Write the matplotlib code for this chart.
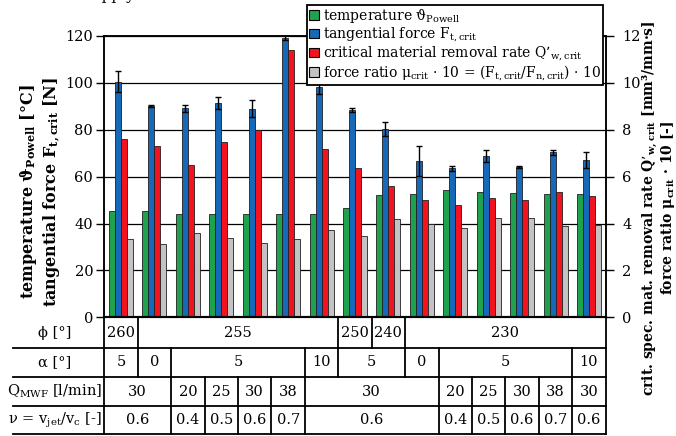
import numpy as np
import matplotlib
matplotlib.use('Agg')
import matplotlib.pyplot as plt
import matplotlib.transforms as mtransforms
from matplotlib.patches import Patch

plt.rcParams['font.family'] = ['DejaVu Serif']
plt.rcParams['mathtext.default'] = 'regular'

# measured values, 15 test configurations
temperature = [45.5, 45.2, 43.9, 43.9, 43.9, 43.9, 43.9, 46.8, 52.2, 52.6, 54.3, 53.5, 53.2, 52.6, 52.6]
force_t = [100.5, 90.1, 89.1, 91.3, 89.0, 119.3, 98.4, 88.4, 80.2, 66.8, 63.6, 68.8, 64.1, 70.4, 67.1]
force_t_err = [4.5, 0.6, 1.5, 2.5, 3.5, 1.0, 3.0, 0.8, 3.0, 6.4, 1.0, 2.5, 0.3, 1.0, 3.6]
q_w_crit = [7.6, 7.31, 6.5, 7.49, 7.99, 11.4, 7.2, 6.36, 5.6, 5.0, 4.79, 5.08, 5.0, 5.36, 5.18]
mu_crit_x10 = [3.34, 3.14, 3.58, 3.37, 3.18, 3.34, 3.73, 3.48, 4.19, 3.97, 3.82, 4.22, 4.25, 3.91, 3.94]

# table below the chart: (cell text, number of groups spanned)
phi_cells = ['260', '255', '250', '240', '230']
phi_spans = [1, 6, 1, 1, 6]
alpha_cells = ['5', '0', '5', '10', '5', '0', '5', '10']
alpha_spans = [1, 1, 4, 1, 2, 1, 4, 1]
q_cells = ['30', '20', '25', '30', '38', '30', '20', '25', '30', '38', '30']
q_spans = [2, 1, 1, 1, 1, 4, 1, 1, 1, 1, 1]
nu_cells = ['0.6', '0.4', '0.5', '0.6', '0.7', '0.6', '0.4', '0.5', '0.6', '0.7', '0.6']
nu_spans = [2, 1, 1, 1, 1, 4, 1, 1, 1, 1, 1]
row_labels = ['ϕ [°]', 'α [°]', 'Q$_{MWF}$ [l/min]', 'ν = v$_{jet}$/v$_c$ [-]']

c_green = '#1ea24e'
c_blue = '#1668b8'
c_red = '#f5121f'
c_gray = '#c3c3c3'

W, H = 676, 436
fig = plt.figure(figsize=(W / 100, H / 100), dpi=100)
x0, x1, y0, y1 = 104.3, 605.7, 317.3, 36.0
ax = fig.add_axes([x0 / W, 1 - y0 / H, (x1 - x0) / W, (y0 - y1) / H])
ax2 = ax.twinx()

n = len(temperature)
x = np.arange(n)
bw = 0.18
ax.bar(x - 0.27, temperature, bw, color=c_green, edgecolor='#202020', linewidth=0.6, zorder=2)
ax.bar(x - 0.09, force_t, bw, color=c_blue, edgecolor='#202020', linewidth=0.6, zorder=2)
ax.errorbar(x - 0.09, force_t, yerr=force_t_err, fmt='none', ecolor='black',
            elinewidth=1.0, capsize=2.5, capthick=1.0, zorder=3)
ax2.bar(x + 0.09, q_w_crit, bw, color=c_red, edgecolor='#202020', linewidth=0.6, zorder=2)
ax2.bar(x + 0.27, mu_crit_x10, bw, color=c_gray, edgecolor='#202020', linewidth=0.6, zorder=2)

ax.set_xlim(-0.5, n - 0.5)
ax.set_ylim(0, 120)
ax2.set_ylim(0, 12)
ax.set_yticks(np.arange(0, 121, 20))
ax2.set_yticks(np.arange(0, 13, 2))
ax.set_xticks([])
ax.set_axisbelow(True)
ax.yaxis.grid(True, color='black', linewidth=0.9)
for a in (ax, ax2):
    a.tick_params(axis='y', direction='out', length=6, width=1, labelsize=10.5, pad=2)
    for s in a.spines.values():
        s.set_color('black')
        s.set_linewidth(1.1)
    a.spines['bottom'].set_linewidth(1.5)
ax2.tick_params(axis='y', pad=6)

# table
blend = mtransforms.blended_transform_factory(ax.transData, ax.transAxes)
def yf(p):
    return (y0 - p) / (y0 - y1)
row_edges = [317.3, 348.0, 377.0, 406.0, 434.0]
xl = -0.5 + (13 - x0) / ((x1 - x0) / n)
xlab = -0.5 + (55 - x0) / ((x1 - x0) / n)
for p in row_edges[1:]:
    ax.plot([xl, n - 0.5], [yf(p)] * 2, color='black', lw=1.3, transform=blend, clip_on=False)
for xe in (-0.5, n - 0.5):
    ax.plot([xe, xe], [0, yf(row_edges[-1])], color='black', lw=1.3, transform=blend, clip_on=False)
rows = [(phi_cells, phi_spans), (alpha_cells, alpha_spans), (q_cells, q_spans), (nu_cells, nu_spans)]
for r, (cells, spans) in enumerate(rows):
    top, bot = yf(row_edges[r]), yf(row_edges[r + 1])
    mid = (top + bot) / 2
    start = -0.5
    for txt, sp in zip(cells, spans):
        end = start + sp
        ax.text((start + end) / 2, mid, txt, transform=blend, ha='center', va='center', fontsize=10.5)
        if end < n - 0.5:
            ax.plot([end, end], [top, bot], color='black', lw=1.3, transform=blend, clip_on=False)
        start = end
    ax.text(xlab, mid, row_labels[r], transform=blend, ha='center', va='center', fontsize=10.5)

fig.text(40 / W, 1 - 192 / H, 'temperature ϑ$_{Powell}$ [°C]\ntangential force F$_{t,crit}$ [N]',
         rotation=90, ha='center', va='center', fontsize=11.5, fontweight='bold', multialignment='center')
fig.text(659 / W, 1 - 208 / H,
         'crit. spec. mat. removal rate Q’$_{w,crit}$ [mm³/mm·s]\nforce ratio μ$_{crit}$ · 10 [-]',
         rotation=90, ha='center', va='center', fontsize=10, fontweight='bold', multialignment='center',
         linespacing=0.95)
fig.text(0.125, 1.0, 'supply', fontsize=11, va='baseline')

handles = [Patch(facecolor=c, edgecolor='black', linewidth=0.8) for c in (c_green, c_blue, c_red, c_gray)]
labels = ['temperature ϑ$_{Powell}$',
          'tangential force F$_{t,crit}$',
          'critical material removal rate Q’$_{w,crit}$',
          'force ratio μ$_{crit}$ · 10 = (F$_{t,crit}$/F$_{n,crit}$) · 10']
leg = ax2.legend(handles, labels, loc='upper right', bbox_to_anchor=(603 / W, 1 - 5 / H),
                 bbox_transform=fig.transFigure, fontsize=10, frameon=True, fancybox=False,
                 framealpha=1, edgecolor='black', handlelength=0.7, handleheight=0.7,
                 handletextpad=0.3, labelspacing=0.02, borderpad=0.15, borderaxespad=0)
leg.get_frame().set_linewidth(1.3)

fig.savefig('out.png', dpi=100)
